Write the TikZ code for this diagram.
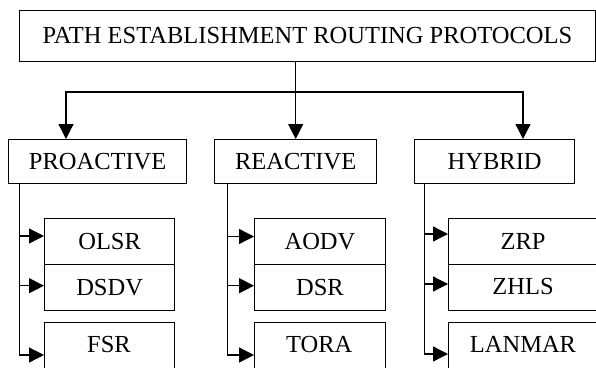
\documentclass[tikz,border=0pt]{standalone}
\usepackage{fontspec}
\setmainfont{Liberation Serif}
\usetikzlibrary{arrows.meta}
\begin{document}
\begin{tikzpicture}[x=1pt,y=-1pt,
  lbl/.style={font=\fontsize{24.5}{29}\selectfont, inner sep=0pt},
  box/.style={draw, line width=1.3pt, inner sep=0pt, anchor=north west, lbl},
  arr/.style={line width=1.3pt, -{Triangle[length=15pt,width=15pt]}}]
\useasboundingbox (0,0) rectangle (596,367);
\clip (0,0) rectangle (596,367);
% top
\node[box, minimum width=575.5pt, minimum height=50.5pt] (top) at (19,10) {PATH ESTABLISHMENT ROUTING PROTOCOLS};
% level 2
\node[box, minimum width=178pt, minimum height=44pt] (pro) at (8,139) {PROACTIVE};
\node[box, minimum width=162pt, minimum height=44pt] (rea) at (214,139) {REACTIVE};
\node[box, minimum width=160pt, minimum height=44pt] (hyb) at (414,139) {HYBRID};
% proactive children
\node[box, minimum width=130pt, minimum height=46.3pt] (olsr) at (44,217.7) {OLSR};
\node[box, minimum width=130pt, minimum height=46pt] (dsdv) at (44,264) {DSDV};
\node[box, minimum width=130pt, minimum height=66pt] (fsr) at (44,322) {};
\node[lbl] (fsrt) at (109,344.5) {FSR};
% reactive children
\node[box, minimum width=130.7pt, minimum height=46.3pt] (aodv) at (254,217.7) {AODV};
\node[box, minimum width=130.7pt, minimum height=46pt] (dsr) at (254,264) {DSR};
\node[box, minimum width=130.7pt, minimum height=66pt] (tora) at (254,322) {};
\node[lbl] (torat) at (319.3,344.5) {TORA};
% hybrid children
\node[box, minimum width=200pt, minimum height=46.3pt] (zrp) at (448,217.7) {};
\node[lbl] (zrpt) at (523,241) {ZRP};
\node[box, minimum width=200pt, minimum height=46pt] (zhls) at (448,264) {};
\node[lbl] (zhlst) at (523,287) {ZHLS};
\node[box, minimum width=200pt, minimum height=66pt] (lan) at (448,322) {};
\node[lbl] (lant) at (523,344.5) {LANMAR};
% top connectors
\coordinate (bus) at (295.7,92);
\draw[arr] (top.south -| bus) -- (rea.north -| bus);
\draw[arr] (bus) -| (66,139) coordinate (proin);
\draw[arr] (bus) -| (523,139) coordinate (hybin);
% proactive trunk
\coordinate (pt) at (19.5,183);
\draw[arr] (pt) |- (fsr.west |- 0,355);
\draw[arr] (pt |- 0,236) -- (olsr.west |- 0,236);
\draw[arr] (pt |- 0,285.7) -- (dsdv.west |- 0,285.7);
% reactive trunk
\coordinate (rt) at (227.7,183);
\draw[arr] (rt) |- (tora.west |- 0,355);
\draw[arr] (rt |- 0,236.5) -- (aodv.west |- 0,236.5);
\draw[arr] (rt |- 0,285.7) -- (dsr.west |- 0,285.7);
% hybrid trunk
\coordinate (ht) at (424.7,183);
\draw[arr] (ht) |- (lan.west |- 0,354);
\draw[arr] (ht |- 0,234) -- (zrp.west |- 0,234);
\draw[arr] (ht |- 0,284) -- (zhls.west |- 0,284);
\end{tikzpicture}
\end{document}
